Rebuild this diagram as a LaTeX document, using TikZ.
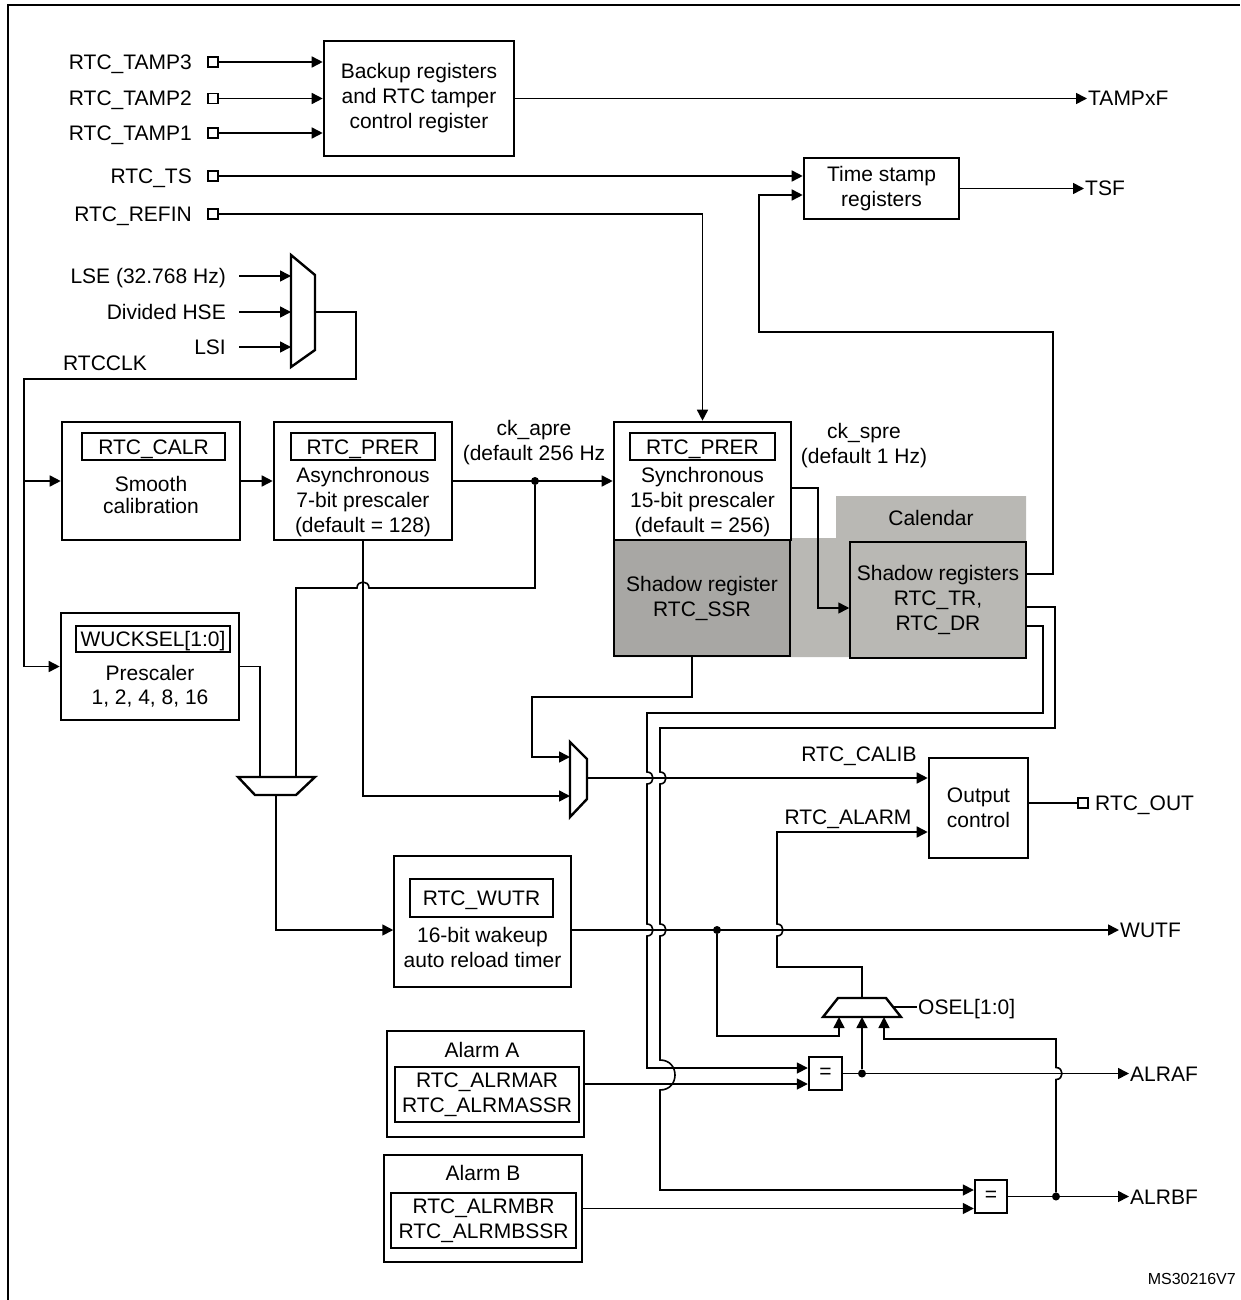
\documentclass[tikz,border=0pt]{standalone}
\usepackage{fontspec}
\setmainfont{Liberation Sans}
\usetikzlibrary{arrows.meta,calc}
\newcommand\dfont{\fontsize{21}{25}\selectfont}
\newcommand\sfont{\fontsize{16}{19}\selectfont}
\definecolor{calgray}{HTML}{B9B8B4}
\definecolor{ssrgray}{HTML}{A8A7A4}
\begin{document}
\begin{tikzpicture}[x=1pt,y=-1pt,
  every node/.style={font=\dfont, inner sep=0pt},
  lbl/.style={text height=15pt, text depth=0pt, inner sep=1pt},
  tbox/.style={draw, line width=2.6pt, fill=white, align=center},
  nbox/.style={draw, line width=1.5pt, fill=white, align=center},
  reg/.style={draw, line width=1.4pt, align=center},
  sreg/.style={reg, text height=15pt, text depth=0pt},
  wire/.style={line width=1.6pt},
  arr/.style={wire, -{Triangle[length=11pt,width=11pt]}},
  pinsq/.style={draw, line width=1.3pt, fill=white, minimum size=10pt},
  jdot/.style={circle, fill=black, minimum size=8pt},
  mux/.style={line width=2.4pt, line join=miter},
]
\useasboundingbox (0,0) rectangle (1240,1300);
\draw[line width=2pt] (8,1300) -- (8,5) -- (1240,5);

% ---------- tamper / time stamp ----------
\node[tbox, minimum width=190pt, minimum height=115pt] (backup) at (419,98.5) {Backup registers\\and RTC tamper\\control register};
\node[lbl, anchor=east] (ltamp3) at (193,62) {RTC\_TAMP3};
\node[lbl, anchor=east] (ltamp2) at (193,98.5) {RTC\_TAMP2};
\node[lbl, anchor=east] (ltamp1) at (193,133) {RTC\_TAMP1};
\node[lbl, anchor=east] (lts) at (193,176) {RTC\_TS};
\node[lbl, anchor=east] (lrefin) at (193,214) {RTC\_REFIN};
\node[pinsq] (ptamp3) at (213,62) {};
\node[pinsq] (ptamp2) at (213,98.5) {};
\node[pinsq] (ptamp1) at (213,133) {};
\node[pinsq] (pts) at (213,176) {};
\node[pinsq] (prefin) at (213,214) {};
\draw[arr] (ptamp3.east) -- (ptamp3.east -| backup.west);
\draw[arr] (ptamp2.east) -- (ptamp2.east -| backup.west);
\draw[arr] (ptamp1.east) -- (ptamp1.east -| backup.west);
\node[lbl, anchor=west] (tampxf) at (1087,98.5) {TAMPxF};
\draw[arr] (backup.east) -- (tampxf.west);

\node[tbox, minimum width=155pt, minimum height=61pt] (tstamp) at (881.5,188.5) {Time stamp\\registers};
\draw[arr] (pts.east) -- (pts.east -| tstamp.west);
\node[lbl, anchor=west] (tsf) at (1084,188.5) {TSF};
\draw[arr] (tstamp.east) -- (tsf.west);

% ---------- clock source mux ----------
\node[lbl, anchor=east] (llse) at (227,276) {LSE (32.768 Hz)};
\node[lbl, anchor=east] (lhse) at (227,312) {Divided HSE};
\node[lbl, anchor=east] (llsi) at (227,347) {LSI};
\draw[mux] (291,255) -- (315,275) -- (315,350) -- (291,367) -- cycle;
\coordinate (cmux) at (315,312);
\draw[arr] (llse.east) ++(12,0) -- (291,276);
\draw[arr] (lhse.east) ++(12,0) -- (291,312);
\draw[arr] (llsi.east) ++(12,0) -- (291,347);
\node[lbl, anchor=west] (lrtcclk) at (62,363) {RTCCLK};

% ---------- prescaler chain ----------
\node[tbox, minimum width=178pt, minimum height=118pt] (calr) at (151,481) {};
\node[sreg, minimum width=143pt, minimum height=27pt] (calrreg) at (153.5,446.5) {RTC\_CALR};
\node[align=center, font=\fontsize{21}{22}\selectfont] (calrtxt) at (151,495) {Smooth\\calibration};

\node[tbox, minimum width=178pt, minimum height=118pt] (async) at (363,481) {};
\node[sreg, minimum width=144pt, minimum height=27pt] (asyncreg) at (363,446.5) {RTC\_PRER};
\node[align=center] (asynctxt) at (363,502) {Asynchronous\\7-bit prescaler\\(default = 128)};

% calendar shading
\fill[calgray] (614,538) -- (836,538) -- (836,496) -- (1026,496) -- (1026,657) -- (614,657) -- cycle;
\node[lbl] (cal) at (931,518) {Calendar};
\node[draw, line width=1.5pt, fill=ssrgray, minimum width=176pt, minimum height=116pt, align=center] (ssr) at (702,598) {Shadow register\\RTC\_SSR};
\node[draw, line width=1.5pt, fill=calgray, minimum width=176pt, minimum height=116pt, align=center] (shadow) at (938,600) {Shadow registers\\RTC\_TR,\\RTC\_DR};

\node[tbox, minimum width=177pt, minimum height=118pt] (sync) at (702.5,481) {};
\node[sreg, minimum width=145pt, minimum height=27pt] (syncreg) at (702.5,446.5) {RTC\_PRER};
\node[align=center] (synctxt) at (702.5,502) {Synchronous\\15-bit prescaler\\(default = 256)};

\node[align=center] (ckapre) at (534,443) {ck\_apre\\(default 256 Hz};
\node[align=center] (ckspre) at (864,446) {ck\_spre\\(default 1 Hz)};

\draw[wire] (cmux) -- (356,312) -- (356,379) -- (24,379) -- (24,481);
\draw[arr] (24,379) |- (calr.west);
\draw[arr] (calr.east) -- (async.west);
\draw[arr] (async.east) -- (sync.west);
\node[jdot] (ckdot) at (535,481) {};
\draw[arr] (prefin.east) -- (prefin.east -| sync.north) -- (sync.north);
\draw[arr] ($(sync.east)+(0,7)$) -| (818,608) -- ($(shadow.west)+(0,8)$);

% feedback to time stamp
\draw[arr] ($(shadow.east)+(0,-26)$) -- (1053,574) -- (1053,332) -- (759,332) -- (759,195) -- ($(tstamp.west)+(0,6.5)$);

% ---------- wakeup ----------
\node[tbox, minimum width=178pt, minimum height=107pt] (wuck) at (150,666.5) {};
\node[sreg, minimum width=154pt, minimum height=26pt] (wuckreg) at (153,639) {WUCKSEL[1:0]};
\node[align=center, font=\fontsize{21}{24}\selectfont] (wucktxt) at (150,686) {Prescaler\\1, 2, 4, 8, 16};
\draw[arr] (24,379) |- (wuck.west);

\draw[mux] (238,777) -- (315,777) -- (296,795) -- (255,795) -- cycle;
\coordinate (wmuxo) at (276,795);
\draw[wire] (wuck.east) -- (260,666.5) -- (260,777);
\draw[wire] (ckdot) -- (535,588) -- (369,588) .. controls (369,580) and (357,580) .. (357,588) -- (296,588) -- (296,777);

\node[nbox, minimum width=177pt, minimum height=131pt] (wutr) at (482.5,921.5) {};
\node[sreg, minimum width=143pt, minimum height=38pt] (wutrreg) at (481.5,898) {RTC\_WUTR};
\node[align=center] (wutrtxt) at (482.5,947.5) {16-bit wakeup\\auto reload timer};
\coordinate (wl) at (276,930);
\draw[arr] (wmuxo) -- (wl) -- (wl -| wutr.west);

% ---------- output mux ----------
\draw[mux] (570,742) -- (587,759) -- (587,799) -- (570,817) -- cycle;
\coordinate (smuxo) at (587,778);
\draw[arr] ([xshift=-10pt]ssr.south) -- (692,697) -- (532,697) -- (532,757) -- (570,757);
\draw[arr] (async.south) -- (363,796) -- (570,796);

\node[tbox, minimum width=99pt, minimum height=100pt] (outctl) at (978.5,808) {Output\\control};
\node[lbl] (lcalib) at (859,754) {RTC\_CALIB};
\node[lbl] (lalarm) at (848,817) {RTC\_ALARM};
\draw[arr] (smuxo) -- (smuxo -| outctl.west);
\node[pinsq] (pout) at (1083,803) {};
\node[lbl, anchor=west] (lout) at (1094,803) {RTC\_OUT};
\draw[wire] ($(outctl.east)+(0,-5)$) -- (pout.west);

\node[lbl, anchor=west] (wutf) at (1119,930) {WUTF};
\draw[arr] (wl -| wutr.east) -- (wutf.west);
\node[jdot] (wdot) at (717,930) {};

% ---------- alarms ----------
\node[tbox, minimum width=197pt, minimum height=106pt] (alarmA) at (485.5,1084) {};
\node[lbl] (alarmAt) at (482,1050) {Alarm A};
\node[reg, minimum width=184pt, minimum height=55pt] (alarmAreg) at (487,1094.5) {RTC\_ALRMAR\\RTC\_ALRMASSR};
\node[tbox, minimum width=198pt, minimum height=107pt] (alarmB) at (483,1208.5) {};
\node[lbl] (alarmBt) at (483,1173) {Alarm B};
\node[reg, minimum width=185pt, minimum height=55pt] (alarmBreg) at (483.5,1220.5) {RTC\_ALRMBR\\RTC\_ALRMBSSR};

\node[tbox, line width=2.4pt, minimum width=33pt, minimum height=33pt] (eqA) at (825.5,1073.5) {=};
\node[tbox, line width=2.4pt, minimum width=32pt, minimum height=33pt] (eqB) at (991,1196.5) {=};
\draw[arr] (alarmA.east) -- (alarmA.east -| eqA.west);
\draw[arr] (alarmB.east) -- (alarmB.east -| eqB.west);

\node[lbl, anchor=west] (alraf) at (1129,1073.5) {ALRAF};
\node[lbl, anchor=west] (alrbf) at (1129,1196.5) {ALRBF};
\draw[arr] (eqA.east) -- (alraf.west);
\draw[arr] (eqB.east) -- (alrbf.west);
\node[jdot] (adot) at (862,1073.5) {};
\node[jdot] (bdot) at (1056,1196.5) {};

% shadow register buses
\draw[arr] ($(shadow.east)+(0,26)$) -- (1043,626) -- (1043,713) -- (647,713)
  -- (647,772) .. controls (655,772) and (655,784) .. (647,784)
  -- (647,924) .. controls (655,924) and (655,936) .. (647,936)
  -- (647,1068) -- ($(eqA.west)+(0,-5.5)$);
\draw[arr] ($(shadow.east)+(0,7)$) -- (1055,607) -- (1055,728) -- (660,728)
  -- (660,772) .. controls (668,772) and (668,784) .. (660,784)
  -- (660,924) .. controls (668,924) and (668,936) .. (660,936)
  -- (660,1060) .. controls (680,1060) and (680,1090) .. (660,1090)
  -- (660,1190) -- ($(eqB.west)+(0,-6.5)$);

% OSEL mux
\draw[mux] (838,998) -- (886,998) -- (901,1017) -- (823,1017) -- cycle;
\node[lbl, anchor=west] (osel) at (917,1007) {OSEL[1:0]};
\draw[wire] (894,1007) -- (osel.west);
\draw[arr] (wdot) -- (717,1036) -- (839,1036) -- (839,1017);
\draw[arr] (adot) -- (862,1017);
\draw[arr] (bdot) -- (1056,1079.5) .. controls (1064,1079.5) and (1064,1067.5) .. (1056,1067.5) -- (1056,1039) -- (884,1039) -- (884,1017);
\draw[arr] (862,998) -- (862,967) -- (777,967) -- (777,936) .. controls (785,936) and (785,924) .. (777,924) -- (777,832) -- ($(outctl.west)+(0,24)$);

\node[anchor=east, font=\sfont, text height=11pt, text depth=0pt] (ms) at (1236,1279) {MS30216V7};
\end{tikzpicture}
\end{document}
